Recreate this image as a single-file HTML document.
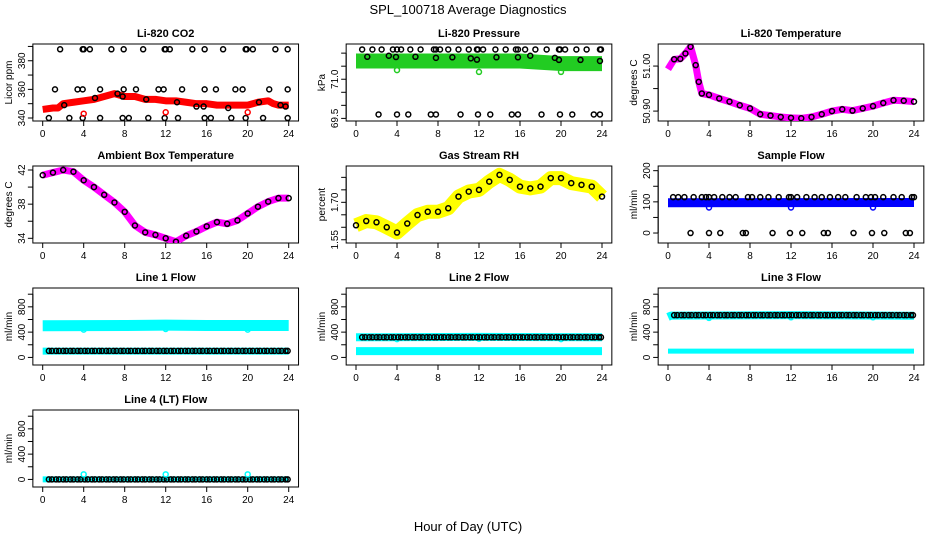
<!DOCTYPE html>
<html><head><meta charset="utf-8"><style>
html,body{margin:0;padding:0;background:#fff;}
svg{display:block;font-family:"Liberation Sans",Arial,sans-serif;}
</style></head><body>
<svg id="chart" width="936" height="540" viewBox="0 0 936 540">
<text x="468" y="14" text-anchor="middle" font-size="13">SPL_100718  Average Diagnostics</text>
<text x="468" y="531" text-anchor="middle" font-size="13">Hour of Day (UTC)</text>
</svg>
<script>
// ---- data ----
const xTicks = [0,4,8,12,16,20,24];
const lineHours = [0.6,0.9,1.3,1.6,2.0,2.3,2.7,3.0,3.4,3.7,4.1,4.4,4.8,5.1,5.5,5.8,6.2,6.5,6.9,7.2,7.6,7.9,8.3,8.6,9.0,9.3,9.7,10.0,10.4,10.7,11.1,11.4,11.8,12.1,12.5,12.8,13.2,13.5,13.9,14.2,14.6,14.9,15.3,15.6,16.0,16.3,16.7,17.0,17.4,17.7,18.1,18.4,18.8,19.1,19.5,19.8,20.2,20.5,20.9,21.2,21.6,21.9,22.3,22.6,23.0,23.3,23.7,23.9];

const co2BandH = [0,1,1.5,2,3,4,5,6,7,7.5,8,9,10,11,12,13,14,15,16,17,18,19,20,21,22,22.5,23,24];
const co2BandV = [346,347,347,350,351,352,353,355,357,356,355,355,353,353,352,352,351,350,350,349,349,349,349,351,352,350,349,349];
const co2TopH = [1.7,3.9,4,4.6,6.7,7.9,9.8,11.9,12,12.4,14.6,15.8,17.6,19.8,19.9,20.5,22.7,23.9];
const co2MidH = [1.2,3.4,3.9,5.6,7.9,9.1,11.3,11.8,13.6,15.8,16.9,18.8,19.5,22.1,23.9];
const co2LowH = [0.6,2.6,3.9,5.6,7.8,8.4,10.3,11.9,13.2,15.8,16.4,18.4,19.8,21.5,23.9];
const co2CurveH = [2.1,5.1,7.3,7.8,10.1,13.1,15.0,15.7,18.1,21.1,23.2,23.7];
const co2CurveV = [349,354,357,355,353,351,348,348,347,351,349,348];
const co2RedH = [4,12,20];
const co2RedV = [343,344,344];

const presBandH = [0,8,16,20,24];
const presBandV = [71.7,71.7,71.7,71.6,71.6];
const presTopH = [0.6,1.6,2.5,3.6,4,4.4,5.3,6.3,7.6,7.8,8.2,9.0,10.0,11.0,11.8,11.9,12.4,13.6,14.6,15.6,15.8,16.5,17.5,18.6,19.8,19.9,20.4,21.5,22.5,23.8,23.9];
const presMidH = [1.1,3.2,3.9,5.8,7.8,9.4,11.2,11.8,13.7,15.8,17.0,19.4,19.8,21.9,23.8];
const presMidV = [71.86,71.9,71.85,71.86,71.82,71.84,71.8,71.75,71.84,71.84,71.9,71.82,71.74,71.74,71.7];
const presLowH = [2.2,4,5.1,7.3,7.8,10.2,11.9,13.1,15.2,15.8,18.1,19.9,21.1,23.2,23.8];
const presGreenH = [4,12,20,22];
const presGreenV = [71.35,71.28,71.28,71.45];

const tempH = [0,0.6,1.2,1.7,2.2,2.7,3.0,3.3,4,5,6,7,8,9,10,11,12,13,14,15,16,17,18,19,20,21,22,23,24];
const tempV = [50.993,51.015,51.016,51.028,51.043,51.002,50.965,50.939,50.936,50.928,50.921,50.913,50.906,50.893,50.890,50.887,50.885,50.884,50.887,50.893,50.900,50.904,50.901,50.906,50.911,50.918,50.924,50.923,50.921];

const ambH = [0,1,2,3,4,5,6,7,8,9,10,11,12,13,14,15,16,17,18,19,20,21,22,23,24];
const ambV = [41.4,41.7,42.0,41.8,40.8,40.0,39.1,38.2,37.1,35.5,34.7,34.4,34.0,33.6,34.3,34.8,35.4,35.9,35.7,36.1,36.9,37.7,38.3,38.7,38.7];

const rhH = [0,1,2,3,4,5,6,7,8,9,10,11,12,13,14,15,16,17,18,19,20,21,22,23,24];
const rhV = [1.608,1.625,1.62,1.60,1.579,1.615,1.649,1.662,1.662,1.676,1.723,1.743,1.75,1.783,1.81,1.79,1.763,1.756,1.763,1.797,1.797,1.777,1.77,1.763,1.723];

const flowBandH = [0,24];
const flowBandV = [97,98];
const flowDipH = [4,12,20];
const flowDipV = [82,82,82];
const flowTopH = [0.5,1,1.6,2.5,3.3,3.7,4,4.5,5.3,6,6.6,7.8,8.2,9,9.8,10.8,11.8,12,12.6,13.5,14.3,15,15.8,16.6,17.3,18.4,19.3,19.8,20.2,21,22,22.8,23.8,24];
const flowZeroH = [2.2,4,5.1,7.3,7.6,10.2,11.9,13.1,15.2,15.6,18.1,19.9,21.1,23.2,23.6];

const l1BandH = [0,8,12,16,24];
const l1BandV = [500,505,510,505,505];
const l1DipV = [440,450,440];
const l1Level = 103;
const l2BandH = [0,12,24];
const l2BandV = [318,325,318];
const l2DipV = [290,295,290];
const l2Level = 318;
const l3BandH = [0,0.3,12,24];
const l3BandV = [640,662,668,660];
const l3DipV = [625,635,635];
const l3Level = 668;
const dipH = [4,12,20];
const lowCyanLevel = 100;
const l4Level = 0;
const l4CyanH = [4,12,20];
const l4CyanV = [80,80,80];

// ---- layout ----
const NS = "http://www.w3.org/2000/svg";
const svg = document.getElementById('chart');
const colX0 = [42.7,356,668];
const PXH = 10.25;
function mk(tag, attrs, parent){const e=document.createElementNS(NS,tag);for(const k in attrs)e.setAttribute(k,attrs[k]);(parent||svg).appendChild(e);return e;}

function panel(name, title, row, col, ylim, yTicks, yLabels, ytitle){
  const g = mk('g',{});
  
  
  const top=44+122*row, bot=121+122*row;
  const x0=colX0[col];
  const xs=h=>x0+h*PXH;
  const ys=v=>bot-(v-ylim[0])/(ylim[1]-ylim[0])*(bot-top);
  const L=xs(-0.96), R=xs(24.96);
  const t=mk('text',{x:(L+R)/2,y:top-7,'text-anchor':'middle','font-size':11,'font-weight':'bold'},g);
  t.textContent=title;
  
  
  const box=mk('rect',{x:L,y:top,width:R-L,height:bot-top,fill:'none',stroke:'#000','stroke-width':1},g);
  
  
  const xa=mk('g',{},g);
  
  
  mk('line',{x1:xs(xTicks[0]),x2:xs(xTicks[xTicks.length-1]),y1:bot,y2:bot,stroke:'#000'},xa);
  xTicks.forEach(v=>{
    mk('line',{x1:xs(v),x2:xs(v),y1:bot,y2:bot+5,stroke:'#000'},xa);
    const tl=mk('text',{x:xs(v),y:bot+16,'text-anchor':'middle','font-size':10},xa);
    tl.textContent=v;
    
    
  });
  const ya=mk('g',{},g);
  
  
  mk('line',{x1:L,x2:L,y1:ys(yTicks[0]),y2:ys(yTicks[yTicks.length-1]),stroke:'#000'},ya);
  yTicks.forEach((v,i)=>{
    mk('line',{x1:L-5,x2:L,y1:ys(v),y2:ys(v),stroke:'#000'},ya);
    if(yLabels[i]!==''){
      const tl=mk('text',{x:L-8,y:ys(v),'text-anchor':'middle','font-size':10,transform:`rotate(-90 ${L-8} ${ys(v)})`},ya);
      tl.textContent=yLabels[i];
      
      
    }
  });
  const yt=mk('text',{x:L-21,y:(top+bot)/2,'text-anchor':'middle','font-size':10,transform:`rotate(-90 ${L-21} ${(top+bot)/2})`},ya);
  yt.textContent=ytitle;
  
  
  const clip='c'+name;
  const cp=mk('clipPath',{id:clip},g); mk('rect',{x:L,y:top,width:R-L,height:bot-top},cp);
  const data=mk('g',{'clip-path':`url(#${clip})`},g);
  return {xs,ys,g:data};
}
function band(p, H, V, color, w, name){
  const pl=mk('polyline',{points:H.map((h,i)=>p.xs(h)+','+p.ys(V[i])).join(' '),fill:'none',stroke:color,'stroke-width':w,'stroke-linejoin':'round','stroke-linecap':'butt'},p.g);
  
  
}
function pts(p, H, V, color, name){
  const gg=mk('g',{},p.g);
  
  
  H.forEach((h,i)=>{
    const v=Array.isArray(V)?V[i]:V;
    const c=mk('circle',{cx:p.xs(h),cy:p.ys(v),r:2.5,fill:'none',stroke:color,'stroke-width':1.5},gg);
    
    
  });
}

let p=panel('co2-panel','Li-820 CO2',0,0,[337.9,391.7],[340,350,360,370,380,390],['340','','360','','380',''],'Licor ppm');
band(p,co2BandH,co2BandV,'#ff0000',7,'co2-series');
pts(p,co2TopH,388,'#000','co2-outliers-high');
pts(p,co2MidH,360,'#000','co2-outliers-mid');
pts(p,co2LowH,340,'#000','co2-outliers-low');
pts(p,co2CurveH,co2CurveV,'#000','co2-hourly-points');
pts(p,co2RedH,co2RedV,'#ff0000','co2-red-points');

p=panel('pressure-panel','Li-820 Pressure',0,1,[69.4,72.35],[69.5,70,70.5,71,71.5,72],['69.5','','','71.0','',''],'kPa');
band(p,presBandH,presBandV,'#22cc22',15,'pressure-series');
pts(p,presTopH,72.14,'#000','pressure-outliers-high');
pts(p,presMidH,presMidV,'#000','pressure-hourly-points');
pts(p,presLowH,69.65,'#000','pressure-outliers-low');
pts(p,presGreenH,presGreenV,'#22cc22','pressure-green-points');

p=panel('li820-temp-panel','Li-820 Temperature',0,2,[50.878,51.049],[50.9,50.95,51.0],['50.90','','51.00'],'degrees C');
band(p,tempH,tempV,'#ff00ff',7,'li820-temp-series');
pts(p,tempH.slice(1),tempV.slice(1),'#000','li820-temp-points');

p=panel('ambient-temp-panel','Ambient Box Temperature',1,0,[33.45,42.47],[34,36,38,40,42],['34','','38','','42'],'degrees C');
band(p,ambH,ambV,'#ff00ff',7,'ambient-temp-series');
pts(p,ambH,ambV,'#000','ambient-temp-points');

p=panel('rh-panel','Gas Stream RH',1,1,[1.537,1.8455],[1.55,1.6,1.65,1.7,1.75,1.8],['1.55','','','1.70','',''],'percent');
band(p,rhH,rhV,'#ffff00',14,'rh-series');
pts(p,rhH,rhV,'#000','rh-points');

p=panel('sample-flow-panel','Sample Flow',1,2,[-32,215],[0,50,100,150,200],['0','','100','','200'],'ml/min');
band(p,flowBandH,flowBandV,'#0000ff',9,'sample-flow-series');
pts(p,flowDipH,flowDipV,'#0000ff','sample-flow-blue-points');
pts(p,flowTopH,115,'#000','sample-flow-high');
pts(p,flowZeroH,0,'#000','sample-flow-zero');

const lineTicks=[0,200,400,600,800,1000], lineLabels=['0','','400','','800',''];
p=panel('line1-flow-panel','Line 1 Flow',2,0,[-120,1098],lineTicks,lineLabels,'ml/min');
band(p,l1BandH,l1BandV,'#00ffff',11,'line1-high-series');
pts(p,dipH,l1DipV,'#00ffff','line1-dips');
band(p,[0,24],[lowCyanLevel,lowCyanLevel],'#00ffff',7,'line1-low-series');
pts(p,lineHours,l1Level,'#000','line1-points');

p=panel('line2-flow-panel','Line 2 Flow',2,1,[-120,1098],lineTicks,lineLabels,'ml/min');
band(p,l2BandH,l2BandV,'#00ffff',8,'line2-high-series');
pts(p,dipH,l2DipV,'#00ffff','line2-dips');
band(p,[0,24],[lowCyanLevel,lowCyanLevel],'#00ffff',8,'line2-low-series');
pts(p,lineHours,l2Level,'#000','line2-points');

p=panel('line3-flow-panel','Line 3 Flow',2,2,[-120,1098],lineTicks,lineLabels,'ml/min');
band(p,l3BandH,l3BandV,'#00ffff',8,'line3-high-series');
pts(p,dipH,l3DipV,'#00ffff','line3-dips');
band(p,[0,24],[lowCyanLevel,lowCyanLevel],'#00ffff',5,'line3-low-series');
pts(p,lineHours,l3Level,'#000','line3-points');

p=panel('line4-flow-panel','Line 4 (LT) Flow',3,0,[-120,1098],lineTicks,lineLabels,'ml/min');
band(p,[0,24],[l4Level,l4Level],'#00ffff',6,'line4-series');
pts(p,lineHours,l4Level,'#000','line4-points');
pts(p,l4CyanH,l4CyanV,'#00ffff','line4-cyan-points');
</script>
</body></html>
